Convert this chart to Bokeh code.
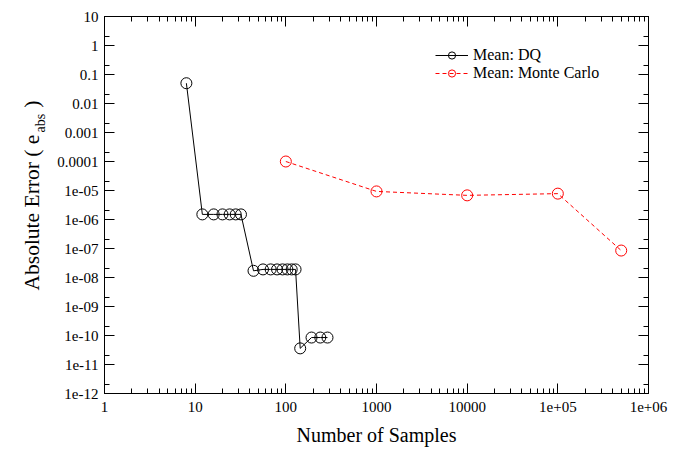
import math
from bokeh.plotting import figure
from bokeh.models import LogAxis, FixedTicker, Legend, LegendItem, Label
from bokeh.embed import file_html
from bokeh.resources import INLINE

# ---- data ----
dq_samples = [8, 12, 16, 20, 24, 28, 32, 44, 56, 68, 80, 92, 104, 116, 128, 144, 192, 240, 288]
dq_error = [5e-2,
            1.5e-6, 1.5e-6, 1.5e-6, 1.5e-6, 1.5e-6, 1.5e-6,
            1.7e-8, 1.9e-8, 1.9e-8, 1.9e-8, 1.9e-8, 1.9e-8, 1.9e-8, 1.9e-8,
            3.6e-11, 8.5e-11, 8.5e-11, 8.5e-11]
mc_samples = [100, 1000, 10000, 100000, 500000]
mc_error = [1.0e-4, 9.3e-6, 6.8e-6, 7.8e-6, 8.5e-8]

x_tick_values = [1, 10, 100, 1000, 10000, 100000, 1000000]
x_tick_labels = ["1", "10", "100", "1000", "10000", "1e+05", "1e+06"]
y_tick_values = [1e-12, 1e-11, 1e-10, 1e-9, 1e-8, 1e-7, 1e-6, 1e-5, 1e-4, 1e-3, 1e-2, 1e-1, 1, 10]
y_tick_labels = ["1e-12", "1e-11", "1e-10", "1e-09", "1e-08", "1e-07", "1e-06", "1e-05",
                 "0.0001", "0.001", "0.01", "0.1", "1", "10"]
y_title_main = "Absolute Error ( e\u2002\u2002 )"
y_title_sub = "abs"

FONT = "Liberation Serif"

x_minor = [m * 10 ** k for k in range(0, 6) for m in range(2, 10)]
y_minor = [2 * 10.0 ** k for k in range(-12, 1)]

p = figure(width=683, height=449, x_axis_type="log", y_axis_type="log",
           x_range=(1, 1e6), y_range=(1e-12, 10),
           output_backend="svg", toolbar_location=None,
           min_border_left=104, min_border_right=35, min_border_top=16, min_border_bottom=56)
p.xgrid.visible = False
p.ygrid.visible = False
p.outline_line_color = "black"
p.outline_line_width = 1
p.background_fill_color = "white"
p.border_fill_color = "white"

def style(ax, labels):
    ax.major_tick_in = 10
    ax.major_tick_out = 0
    ax.minor_tick_in = 5
    ax.minor_tick_out = 0
    ax.axis_line_color = "black"
    ax.major_tick_line_color = "black"
    ax.minor_tick_line_color = "black"
    ax.major_label_text_font = FONT
    ax.major_label_text_font_size = "15px"
    ax.major_label_text_color = "black"
    ax.major_label_overrides = labels

xa = p.xaxis[0]
xa.ticker = FixedTicker(ticks=x_tick_values, minor_ticks=x_minor)
style(xa, {v: l for v, l in zip(x_tick_values, x_tick_labels)})
xa.major_label_standoff = 8
xa.axis_label = "Number of Samples"
xa.axis_label_text_font = FONT
xa.axis_label_text_font_size = "20px"
xa.axis_label_text_font_style = "normal"
xa.axis_label_text_color = "black"
xa.axis_label_standoff = 9

ya = p.yaxis[0]
ya.ticker = FixedTicker(ticks=y_tick_values, minor_ticks=y_minor)
style(ya, {v: l for v, l in zip(y_tick_values, y_tick_labels)})
ya.major_label_standoff = 6

top = LogAxis(ticker=FixedTicker(ticks=x_tick_values, minor_ticks=x_minor))
style(top, {v: "" for v in x_tick_values})
top.major_label_standoff = 0
p.add_layout(top, "above")

right = LogAxis(ticker=FixedTicker(ticks=y_tick_values, minor_ticks=y_minor))
style(right, {v: "" for v in y_tick_values})
right.major_label_standoff = 0
p.add_layout(right, "right")

# ---- series ----
dq_line = p.line(dq_samples, dq_error, line_color="black", line_width=1)
dq_pts = p.scatter(dq_samples, dq_error, marker="circle", size=11,
                   line_color="black", fill_color=None, line_width=1)
mc_line = p.line(mc_samples, mc_error, line_color="#ff0000", line_width=1, line_dash="4 3")
mc_pts = p.scatter(mc_samples, mc_error, marker="circle", size=11,
                   line_color="#ff0000", fill_color=None, line_width=1)

legend = Legend(items=[
    LegendItem(label="Mean: DQ", renderers=[dq_line, dq_pts]),
    LegendItem(label="Mean: Monte Carlo", renderers=[mc_line, mc_pts]),
], location=(331, 311))
legend.border_line_color = None
legend.background_fill_alpha = 0
legend.padding = 0
legend.margin = 0
legend.spacing = 0
legend.glyph_width = 33
legend.glyph_height = 18
legend.label_standoff = 5
legend.label_text_font = FONT
legend.label_text_font_size = "16px"
legend.label_text_color = "black"
legend.label_height = 18
p.add_layout(legend, "center")

# ---- y axis title with subscript ----
p.add_layout(Label(x=1, y=103, x_units="screen", y_units="screen", text=y_title_main,
                   angle=math.pi / 2, text_font=FONT, text_font_size="21.5px",
                   text_baseline="middle", text_align="left", text_color="black"), "left")
p.add_layout(Label(x=25, y=261, x_units="screen", y_units="screen", text=y_title_sub,
                   angle=math.pi / 2, text_font=FONT, text_font_size="14px",
                   text_baseline="middle", text_align="left", text_color="black"), "left")

open("out.html", "w").write(file_html(p, INLINE))
